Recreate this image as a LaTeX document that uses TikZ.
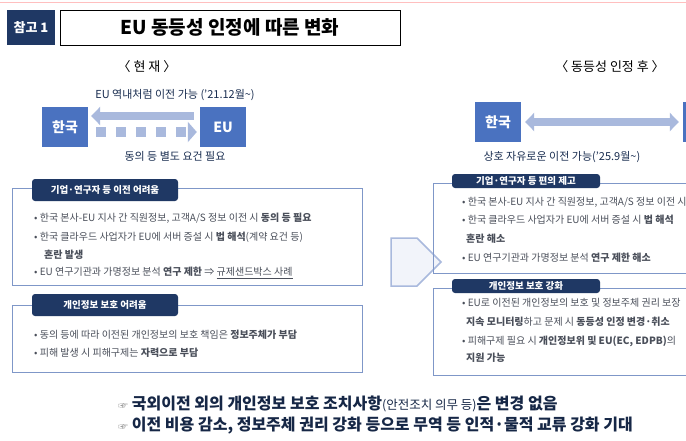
\documentclass[tikz,border=0pt]{standalone}
\usepackage{fontspec}
\setmainfont{Noto Sans CJK KR}
\usetikzlibrary{arrows.meta,shapes.arrows}
\definecolor{navy}{HTML}{1F3864}
\definecolor{kblue}{HTML}{4A72C0}
\definecolor{lblue}{HTML}{A9B9DD}
\definecolor{frame}{HTML}{7F97C8}
\definecolor{txt}{HTML}{4A4F5A}
\tikzset{
 cbox/.style={fill=kblue,text=white,minimum width=46pt,minimum height=40pt,font=\fontsize{14}{14}\selectfont\bfseries},
 tab/.style={fill=navy,text=white,rounded corners=3pt,minimum height=22pt,font=\fontsize{9.5}{9.5}\selectfont\bfseries,inner sep=2pt},
 panel/.style={draw=frame,line width=0.8pt},
 bl/.style={anchor=west,text=txt,font=\fontsize{10}{10}\selectfont,inner sep=0pt},
 lbl/.style={font=\fontsize{11}{11}\selectfont,text=navy!80!black}
}
\begin{document}
\begin{tikzpicture}[x=1pt,y=-1pt]
\useasboundingbox (0,0) rectangle (686,440);
\clip (0,0) rectangle (686,440);
\fill[white] (0,0) rectangle (686,440);
\draw[red!25,line width=1pt] (0,2) -- (686,2);
% title
\node[fill=navy,text=white,minimum width=48pt,minimum height=35pt,font=\fontsize{13}{13}\selectfont\bfseries] (tag) at (31,27.5) {참고 1};
\node[draw=black,line width=0.8pt,minimum width=340pt,minimum height=35pt,font=\fontsize{19}{19}\selectfont\bfseries] (title) at (230,27.5) {EU 동등성 인정에 따른 변화};
\node[font=\fontsize{13}{13}\selectfont] (now) at (147,67) {〈 현 재 〉};
\node[font=\fontsize{13}{13}\selectfont] (after) at (610,67) {〈 동등성 인정 후 〉};
% left flow
\node[lbl] (l1) at (175,95) {EU 역내처럼 이전 가능 ('21.12월\textasciitilde)};
\node[cbox] (kr) at (65,127) {한국};
\node[cbox] (eu) at (223,127) {EU};
\draw[lblue,line width=8pt,-{Triangle[length=9pt,width=18pt]}] ([yshift=11pt,xshift=-6pt]eu.west) -- ([yshift=11pt,xshift=3pt]kr.east);
\draw[lblue,line width=10pt,dash pattern=on 10pt off 10pt,-{Triangle[length=9pt,width=20pt]}] ([yshift=-5pt,xshift=8pt]kr.east) -- ([yshift=-5pt,xshift=-3pt]eu.west);
\node[lbl] (l2) at (175,156) {동의 등 별도 요건 필요};
% right flow
\node[cbox] (kr2) at (498,122) {한국};
\node[cbox] (eu2) at (706,122) {EU};
\draw[lblue,line width=8pt,{Triangle[length=9pt,width=18pt]}-{Triangle[length=9pt,width=18pt]}] ([xshift=4pt]kr2.east) -- ([xshift=-4pt]eu2.west);
\node[lbl,anchor=west] (l3) at (480,157) {상호 자유로운 이전 가능('25.9월\textasciitilde)};
% left panels
\draw[panel] (12,188) rectangle (362,285);
\node[tab,minimum width=146pt] (t1) at (105,190) {기업·연구자 등 이전 어려움};
\node[bl] at (34,218) {• 한국 본사-EU 지사 간 직원정보, 고객A/S 정보 이전 시 {\bfseries 동의 등 필요}};
\node[bl] at (34,237) {• 한국 클라우드 사업자가 EU에 서버 증설 시 {\bfseries 법 해석}(계약 요건 등)};
\node[bl] at (44,255) {\bfseries 혼란 발생};
\node[bl] at (34,273) {• EU 연구기관과 가명정보 분석 {\bfseries 연구 제한} ⇒ \underline{규제샌드박스 사례}};
\draw[panel] (12,305) rectangle (362,372);
\node[tab,minimum width=146pt] (t2) at (105,305) {개인정보 보호 어려움};
\node[bl] at (34,335) {• 동의 등에 따라 이전된 개인정보의 보호 책임은 {\bfseries 정보주체가 부담}};
\node[bl] at (34,353) {• 피해 발생 시 피해구제는 {\bfseries 자력으로 부담}};
% middle arrow
\node[single arrow,draw=lblue,line width=1.5pt,fill=lblue!15,minimum height=50pt,minimum width=48pt,single arrow head extend=0pt,inner sep=0pt] (mid) at (404,262) {};
% right panels
\draw[panel] (433,183) rectangle (700,273);
\node[tab,minimum width=148pt,minimum height=14pt] (t3) at (526,181) {기업·연구자 등 편의 제고};
\node[bl] at (462,202) {• 한국 본사-EU 지사 간 직원정보, 고객A/S 정보 이전 시 동의 불요};
\node[bl] at (462,220) {• 한국 클라우드 사업자가 EU에 서버 증설 시 {\bfseries 법 해석}};
\node[bl] at (466,239) {\bfseries 혼란 해소};
\node[bl] at (462,258) {• EU 연구기관과 가명정보 분석 {\bfseries 연구 제한 해소}};
\draw[panel] (433,288) rectangle (700,375);
\node[tab,minimum width=148pt,minimum height=14pt] (t4) at (526,286) {개인정보 보호 강화};
\node[bl] at (462,303) {• EU로 이전된 개인정보의 보호 및 정보주체 권리 보장};
\node[bl] at (466,322) {{\bfseries 지속 모니터링}하고 문제 시 {\bfseries 동등성 인정 변경·취소}};
\node[bl] at (462,341) {• 피해구제 필요 시 {\bfseries 개인정보위 및 EU(EC, EDPB)}의};
\node[bl] at (466,358) {\bfseries 지원 가능};
% bottom
\node[anchor=west,font=\fontsize{16}{16}\selectfont\bfseries,text=navy!70!black,inner sep=0pt] (b1) at (118,404) {{\color{gray}\fontsize{10}{10}\selectfont ☞} 국외이전 외의 개인정보 보호 조치사항{\mdseries\fontsize{12.5}{12.5}\selectfont (안전조치 의무 등)}은 변경 없음};
\node[anchor=west,font=\fontsize{16}{16}\selectfont\bfseries,text=navy!70!black,inner sep=0pt] (b2) at (118,426) {{\color{gray}\fontsize{10}{10}\selectfont ☞} 이전 비용 감소, 정보주체 권리 강화 등으로 무역 등 인적·물적 교류 강화 기대};
\end{tikzpicture}
\end{document}
